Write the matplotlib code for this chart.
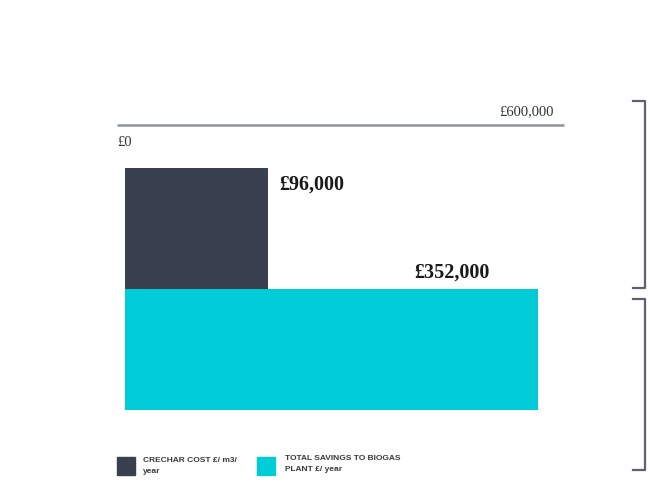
import numpy as np
import matplotlib
matplotlib.use("Agg")
import matplotlib.pyplot as plt
from matplotlib.lines import Line2D
from matplotlib.patches import Rectangle

# ---- data ---------------------------------------------------------------- #
categories = ["CRECHAR COST £/ m3/\nyear", "TOTAL SAVINGS TO BIOGAS\nPLANT £/ year"]
value_labels = ["£96,000", "£352,000"]
# bar lengths as drawn against the £0 .. £600,000 scale
bar_lengths = [195000, 564500]
axis_min, axis_max = 0, 600000
axis_labels = ["£0", "£600,000"]
colors = ["#3b4051", "#00ccd8"]

W, H = 650, 482
fig = plt.figure(figsize=(W / 100, H / 100), dpi=100)


def px(x, y):
    """pixel (from top-left) -> figure fraction"""
    return x / W, 1 - y / H


# bars axes: x 125..564 px, y 125..410 px
ax = fig.add_axes([125 / W, 1 - 410 / H, (564 - 125) / W, (410 - 125) / H])
ax.barh([0, 1], bar_lengths, height=1.0, left=0, color=colors)
ax.set_xlim(axis_min, axis_max)
ax.set_ylim(1.5, -0.5 - 43 / 120.5)
ax.axis("off")

# top axis line, a little longer than the bars on the left
ax.plot([-8 / 439, 1], [1, 1], transform=ax.transAxes, color="#8e929d",
        lw=1.8, clip_on=False, solid_capstyle="butt")

serif = ["Liberation Serif", "DejaVu Serif"]
fig.text(*px(117, 142), axis_labels[0], family=serif, fontsize=10.5,
         color="#333333", ha="left", va="center")
fig.text(*px(554, 112), axis_labels[1], family=serif, fontsize=10.5,
         color="#333333", ha="right", va="center")

# value labels
fig.text(*px(279, 185), value_labels[0], family=serif, fontsize=14.5,
         weight="bold", color="#1a1a1a", ha="left", va="center")
fig.text(*px(490, 273), value_labels[1], family=serif, fontsize=14.5,
         weight="bold", color="#1a1a1a", ha="right", va="center")

# right-hand brackets
for y0, y1 in [(101, 288), (299, 470)]:
    xs = [633 / W, 645 / W, 645 / W, 633 / W]
    ys = [1 - y0 / H, 1 - y0 / H, 1 - y1 / H, 1 - y1 / H]
    fig.add_artist(Line2D(xs, ys, color="#5d6172", lw=1.6))

# legend
sans = ["Liberation Sans", "DejaVu Sans"]
for (sx, tx, ty), c, lab in zip([(117, 143, 466), (257, 285, 464)], colors, categories):
    fig.add_artist(Rectangle(px(sx, 475), 18 / W, 18 / H, color=c,
                             transform=fig.transFigure))
    fig.text(*px(tx, ty), lab, family=sans, fontsize=6, weight="bold",
             color="#3a3a3a", ha="left", va="center", linespacing=1.9)

fig.savefig("out.png", dpi=100)
